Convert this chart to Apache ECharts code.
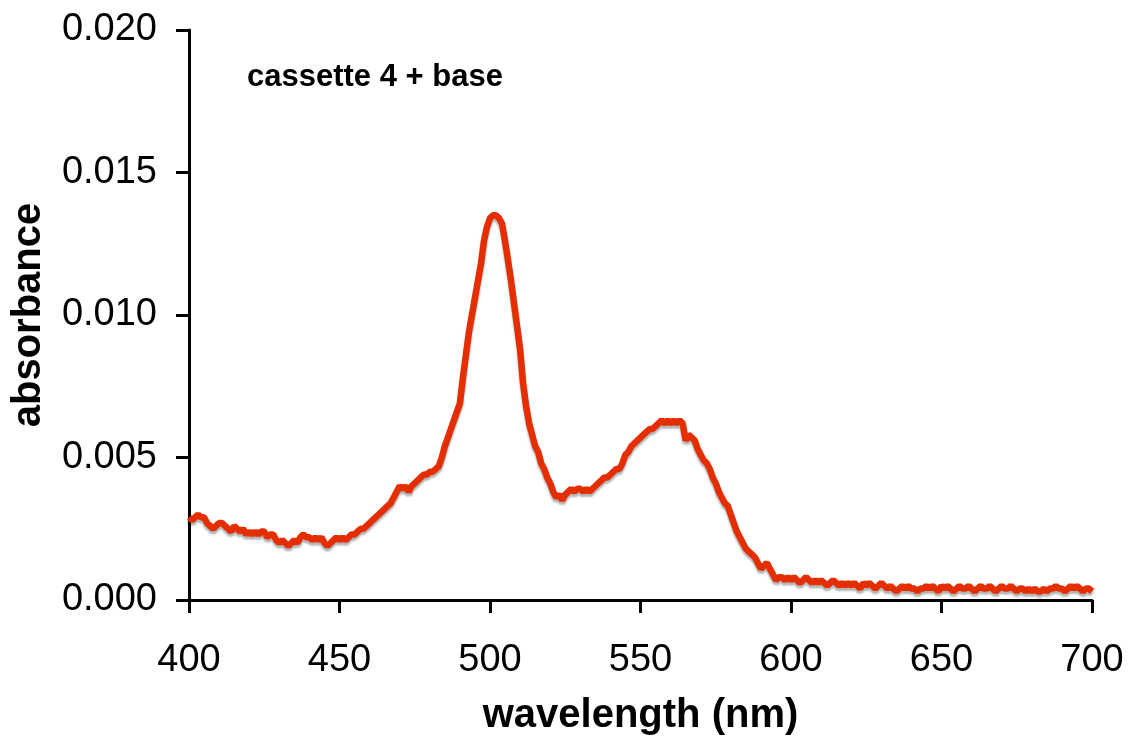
<!DOCTYPE html>
<html>
<head>
<meta charset="utf-8">
<script src="https://cdn.jsdelivr.net/npm/echarts@6/dist/echarts.min.js"></script>
<style>
html,body{margin:0;padding:0;background:#fff;}
#chart{width:1137px;height:743px;}
</style>
</head>
<body>
<div id="chart"></div>
<script>
// wavelengths 400..700 nm, 1 nm step
const wavelengthStart = 400;
const absorbance = [
0.0029,0.0028,0.0029,0.0030,0.0029,0.0029,0.0027,0.0026,0.0025,0.0026,
0.0027,0.0027,0.0026,0.0025,0.0024,0.0026,0.0025,0.0024,0.0025,0.0023,
0.0024,0.0023,0.0024,0.0023,0.0024,0.0024,0.0022,0.0023,0.0023,0.0021,
0.0020,0.0021,0.0020,0.0019,0.0020,0.0021,0.0020,0.0022,0.0023,0.0022,
0.0022,0.0021,0.0022,0.0021,0.0022,0.0020,0.0019,0.0020,0.0021,0.0022,
0.0021,0.0022,0.0021,0.0022,0.0023,0.0023,0.0024,0.0025,0.0025,0.0026,
0.0027,0.0028,0.0029,0.0030,0.0031,0.0032,0.0033,0.0034,0.0036,0.0038,
0.0040,0.0039,0.0040,0.0038,0.0040,0.0041,0.0042,0.0043,0.0044,0.0044,
0.0045,0.0045,0.0046,0.0047,0.0050,0.0054,0.0057,0.0060,0.0063,0.0066,
0.0069,0.0078,0.0086,0.0094,0.0100,0.0106,0.0112,0.0118,0.0126,0.0131,
0.0134,0.0135,0.0135,0.0134,0.0132,0.0126,0.0119,0.0112,0.0104,0.0096,
0.0088,0.0076,0.0068,0.0062,0.0058,0.0054,0.0052,0.0048,0.0046,0.0043,
0.0041,0.0038,0.0036,0.0037,0.0035,0.0037,0.0038,0.0039,0.0038,0.0039,
0.0039,0.0038,0.0039,0.0038,0.0039,0.0040,0.0041,0.0042,0.0043,0.0043,
0.0044,0.0045,0.0046,0.0046,0.0048,0.0051,0.0052,0.0054,0.0055,0.0056,
0.0057,0.0058,0.0059,0.0060,0.0060,0.0061,0.0062,0.0063,0.0062,0.0063,
0.0062,0.0063,0.0062,0.0063,0.0062,0.0056,0.0058,0.0057,0.0056,0.0053,
0.0051,0.0049,0.0048,0.0046,0.0043,0.0041,0.0038,0.0036,0.0034,0.0033,
0.0030,0.0027,0.0024,0.0022,0.0020,0.0018,0.0017,0.0016,0.0015,0.0013,
0.0011,0.0012,0.0013,0.0011,0.0009,0.0007,0.0008,0.0008,0.0007,0.0008,
0.0007,0.0008,0.0007,0.0006,0.0007,0.0008,0.0007,0.0006,0.0007,0.0006,
0.0007,0.0006,0.0005,0.0006,0.0007,0.0006,0.0005,0.0006,0.0005,0.0006,
0.0005,0.0006,0.0005,0.0004,0.0006,0.0005,0.0006,0.0005,0.0004,0.0005,
0.0006,0.0005,0.0004,0.0005,0.0004,0.0003,0.0004,0.0005,0.0004,0.0005,
0.0004,0.0004,0.0003,0.0004,0.0004,0.0005,0.0004,0.0005,0.0004,0.0003,
0.0005,0.0004,0.0005,0.0004,0.0003,0.0004,0.0005,0.0004,0.0004,0.0005,
0.0004,0.0003,0.0004,0.0005,0.0004,0.0004,0.0005,0.0004,0.0003,0.0004,
0.0005,0.0004,0.0004,0.0005,0.0004,0.0003,0.0004,0.0004,0.0003,0.0004,
0.0003,0.0004,0.0003,0.0003,0.0004,0.0003,0.0004,0.0004,0.0005,0.0004,
0.0004,0.0003,0.0004,0.0005,0.0004,0.0005,0.0004,0.0003,0.0004,0.0004,
0.0003
];
const xTicks = [400, 450, 500, 550, 600, 650, 700];
const yTicks = [0.000, 0.005, 0.010, 0.015, 0.020];
const seriesLabel = 'cassette 4 + base';

const points = absorbance.map((v, i) => [wavelengthStart + i, v]);

const chart = echarts.init(document.getElementById('chart'));
const font = 'Liberation Sans, Arial, Helvetica, sans-serif';
chart.setOption({
  animation: false,
  backgroundColor: '#fff',
  grid: {left: 189, right: 45, top: 30, bottom: 143, containLabel: false, outerBoundsMode: 'none'},
  xAxis: {
    type: 'value',
    min: xTicks[0], max: xTicks[xTicks.length - 1], interval: 50,
    name: 'wavelength (nm)', nameLocation: 'middle', nameGap: 96,
    nameTextStyle: {fontFamily: font, fontSize: 40, fontWeight: 'bold', color: '#000'},
    axisLine: {lineStyle: {color: '#000', width: 3}},
    axisTick: {show: true, inside: false, length: 13, lineStyle: {color: '#000', width: 3}},
    axisLabel: {fontFamily: font, fontSize: 38, color: '#000', margin: 42},
    splitLine: {show: false}
  },
  yAxis: {
    type: 'value',
    min: yTicks[0], max: yTicks[yTicks.length - 1], interval: 0.005,
    name: 'absorbance', nameLocation: 'middle', nameGap: 140,
    nameTextStyle: {fontFamily: font, fontSize: 40, fontWeight: 'bold', color: '#000'},
    axisLine: {show: true, lineStyle: {color: '#000', width: 3}},
    axisTick: {show: true, inside: false, length: 13, lineStyle: {color: '#000', width: 3}},
    axisLabel: {fontFamily: font, fontSize: 38, color: '#000', margin: 32,
      formatter: v => v.toFixed(3)},
    splitLine: {show: false}
  },
  graphic: [{
    type: 'text', left: 247, top: 62,
    style: {text: seriesLabel, font: 'bold 31px ' + font, fill: '#000'}
  }],
  series: [{
    type: 'line',
    data: points,
    showSymbol: false,
    smooth: false,
    lineStyle: {color: '#e52e00', width: 6.5,
      shadowColor: 'rgba(0,0,0,0.3)', shadowBlur: 2, shadowOffsetY: 3},
    z: 3
  }]
});
</script>
</body>
</html>
